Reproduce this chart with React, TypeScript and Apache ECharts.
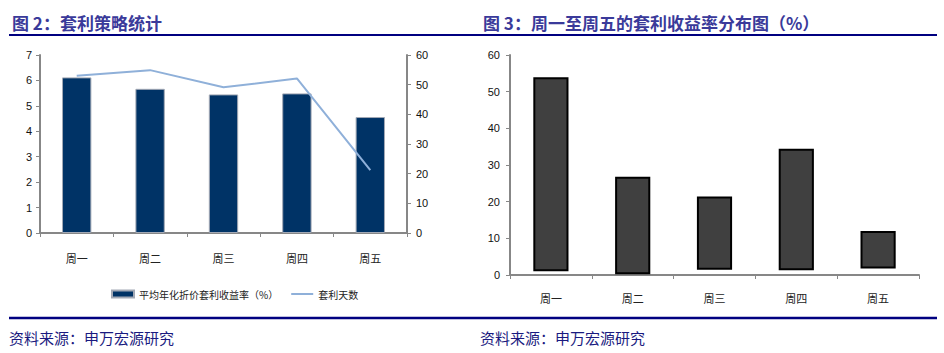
import React, { useEffect, useRef } from "react";
import * as echarts from "echarts";

const categories = ["周一", "周二", "周三", "周四", "周五"];
// Figure 2
const yieldValues = [6.12, 5.67, 5.45, 5.49, 4.56];
const dayValues = [53.0, 54.9, 49.1, 52.1, 21.2];
const yieldName = "平均年化折价套利收益率（%）";
const dayName = "套利天数";
// Figure 3 (floating bars: low and high ends)
const distLow = [1.0, 0.2, 1.4, 1.3, 1.8];
const distHigh = [53.9, 26.8, 21.4, 34.4, 12.0];

const title2 = "图 2：套利策略统计";
const title3 = "图 3：周一至周五的套利收益率分布图（%）";
const sourceText = "资料来源：申万宏源研究";

const NUM_FONT = "Liberation Sans, Arial, Noto Sans CJK SC, sans-serif";
const CJK_FONT = "Noto Sans CJK SC, sans-serif";
const AXIS_COLOR = "#878787";

const axisCommon = {
  axisLine: { show: true, lineStyle: { color: AXIS_COLOR, width: 2 } },
  axisTick: { show: true, length: 4, lineStyle: { color: AXIS_COLOR, width: 1 } },
  splitLine: { show: false },
};

export default function App() {
  const ref = useRef<HTMLDivElement>(null);
  useEffect(() => {
    if (!ref.current) return;
    const chart = echarts.init(ref.current, null, { renderer: "svg" });
    const option: any = {
      animation: false,
      backgroundColor: "#ffffff",
      grid: [
        { left: 40, right: 537, top: 55, bottom: 120, containLabel: false },
        { left: 510, right: 25, top: 55, bottom: 78, containLabel: false },
      ],
      legend: {
        left: 111,
        top: 289,
        padding: 0,
        itemWidth: 22,
        itemHeight: 7,
        itemGap: 12,
        data: [
          { name: yieldName, icon: "rect" },
          { name: dayName, itemStyle: { opacity: 0 }, lineStyle: { color: "#8fb0d9", width: 2 } },
        ],
        textStyle: { fontSize: 10, color: "#222", fontFamily: CJK_FONT },
      },
      xAxis: [
        {
          type: "category",
          gridIndex: 0,
          data: categories,
          ...axisCommon,
          axisLabel: { fontSize: 11, color: "#222", margin: 19, fontFamily: CJK_FONT },
        },
        {
          type: "category",
          gridIndex: 1,
          data: categories,
          ...axisCommon,
          axisLabel: { fontSize: 11, color: "#222", margin: 17, fontFamily: CJK_FONT },
        },
      ],
      yAxis: [
        {
          type: "value",
          gridIndex: 0,
          min: 0,
          max: 7,
          interval: 1,
          ...axisCommon,
          axisLabel: { fontSize: 11, color: "#111", margin: 8, fontFamily: NUM_FONT },
        },
        {
          type: "value",
          gridIndex: 0,
          position: "right",
          min: 0,
          max: 60,
          interval: 10,
          ...axisCommon,
          axisLabel: { fontSize: 11, color: "#111", margin: 9, fontFamily: NUM_FONT },
        },
        {
          type: "value",
          gridIndex: 1,
          min: 0,
          max: 60,
          interval: 10,
          ...axisCommon,
          axisLabel: { fontSize: 11, color: "#111", margin: 10, fontFamily: NUM_FONT },
        },
      ],
      series: [
        {
          name: yieldName,
          type: "bar",
          xAxisIndex: 0,
          yAxisIndex: 0,
          data: yieldValues,
          barWidth: "40%",
          itemStyle: { color: "#003366", borderColor: "#a3a9b5", borderWidth: 1 },
        },
        {
          name: dayName,
          type: "line",
          xAxisIndex: 0,
          yAxisIndex: 1,
          data: dayValues,
          symbol: "none",
          lineStyle: { color: "#8fb0d9", width: 2 },
          itemStyle: { color: "#8fb0d9" },
        },
        {
          name: "base",
          type: "bar",
          xAxisIndex: 1,
          yAxisIndex: 2,
          stack: "dist",
          data: distLow,
          barWidth: "43%",
          itemStyle: { color: "transparent" },
          silent: true,
        },
        {
          name: "dist",
          type: "bar",
          xAxisIndex: 1,
          yAxisIndex: 2,
          stack: "dist",
          data: distHigh.map((h, i) => +(h - distLow[i]).toFixed(2)),
          barWidth: "43%",
          itemStyle: { color: "#404040", borderColor: "#000000", borderWidth: 2 },
        },
      ],
      graphic: [
        {
          type: "text",
          x: 12,
          y: 22,
          style: {
            text: title2,
            fill: "#3a3a9a",
            fontSize: 17,
            fontWeight: "bold",
            fontFamily: CJK_FONT,
            verticalAlign: "middle",
            textVerticalAlign: "middle",
          },
        },
        {
          type: "text",
          x: 483,
          y: 22,
          style: {
            text: title3,
            fill: "#3a3a9a",
            fontSize: 17,
            fontWeight: "bold",
            fontFamily: CJK_FONT,
            verticalAlign: "middle",
            textVerticalAlign: "middle",
          },
        },
        {
          type: "line",
          shape: { x1: 9, y1: 35, x2: 937, y2: 35 },
          style: { stroke: "#000080", lineWidth: 2 },
        },
        {
          type: "line",
          shape: { x1: 9, y1: 318, x2: 937, y2: 318 },
          style: { stroke: "#000080", lineWidth: 2.5 },
        },
        {
          type: "text",
          x: 9,
          y: 337,
          style: {
            text: sourceText,
            fill: "#1a1a80",
            fontSize: 15,
            fontFamily: CJK_FONT,
            verticalAlign: "middle",
            textVerticalAlign: "middle",
          },
        },
        {
          type: "text",
          x: 480,
          y: 337,
          style: {
            text: sourceText,
            fill: "#1a1a80",
            fontSize: 15,
            fontFamily: CJK_FONT,
            verticalAlign: "middle",
            textVerticalAlign: "middle",
          },
        },
      ],
    };
    chart.setOption(option);
    return () => chart.dispose();
  }, []);
  return (
    <div
      ref={ref}
      style={{ position: "absolute", left: 0, top: 0, width: 944, height: 353, background: "#fff" }}
    />
  );
}
